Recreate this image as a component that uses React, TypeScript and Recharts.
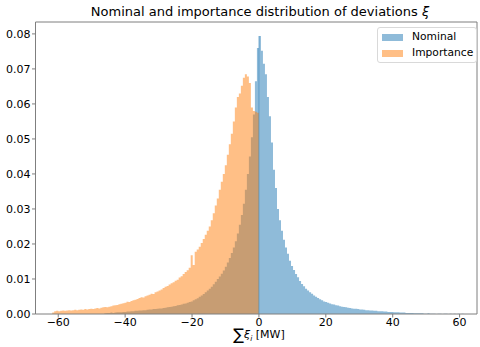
import React from "react";
import {
  ComposedChart, Area, XAxis, YAxis, ReferenceLine,
} from "recharts";

// histogram bins, width 0.6 MW, edges aligned on 0
const BIN_WIDTH = 0.6;

// nominal (blue): bins left of 0, from the far tail up to the bin ending at 0
const nominalBelowZero = [
  0.0002, 0.0003, 0.0003, 0.0004, 0.0003, 0.0004, 0.0005, 0.0005, 0.0005, 0.0006,
  0.0006, 0.0007, 0.0007, 0.0008, 0.0008, 0.0009, 0.0009, 0.001, 0.001, 0.0011,
  0.0011, 0.0012, 0.0013, 0.0013, 0.0014, 0.0014, 0.0015, 0.0016, 0.0016, 0.0017,
  0.0018, 0.0019, 0.002, 0.0021, 0.0022, 0.0023, 0.0025, 0.0026, 0.0027, 0.0029,
  0.003, 0.0032, 0.0034, 0.0036, 0.0039, 0.0042, 0.0045, 0.0049, 0.0053, 0.0057,
  0.0062, 0.0067, 0.0072, 0.0078, 0.0085, 0.0092, 0.01, 0.0107, 0.0115, 0.0124,
  0.0135, 0.0147, 0.016, 0.0174, 0.019, 0.0208, 0.023, 0.0255, 0.0283, 0.0315,
  0.0355, 0.04, 0.045, 0.0505, 0.057, 0.0665, 0.076,
];

// nominal: bins right of 0
const nominalAboveZero = [
  0.0794, 0.0752, 0.0715, 0.0685, 0.062, 0.0565, 0.049, 0.0412, 0.036, 0.03,
  0.0268, 0.0238, 0.0212, 0.019, 0.0172, 0.0152, 0.0137, 0.0126, 0.0114, 0.0105,
  0.0094, 0.0086, 0.0079, 0.0072, 0.0067, 0.0062, 0.0058, 0.0053, 0.0049, 0.0046,
  0.0042, 0.0039, 0.0036, 0.0034, 0.0032, 0.003, 0.0028, 0.0027, 0.0025, 0.0024,
  0.0022, 0.0021, 0.002, 0.0019, 0.0018, 0.0017, 0.0016, 0.0015, 0.0015, 0.0014,
  0.0013, 0.0013, 0.0012, 0.0011, 0.0011, 0.001, 0.001, 0.0009, 0.0009, 0.0008,
  0.0008, 0.0008, 0.0007, 0.0007, 0.0006, 0.0006, 0.0006, 0.0005, 0.0005, 0.0005,
  0.0004, 0.0004, 0.0004, 0.0003, 0.0003, 0.0003, 0.0003, 0.0002, 0.0002, 0.0002,
  0.0002, 0.0002, 0.0001, 0.0001, 0.0002, 0.0001, 0.0001, 0.0001, 0, 0.0001,
  0.0001, 0, 0.0001, 0.0001, 0, 0.0001, 0, 0.0001, 0, 0.0001, 0, 0.0001,
];

// importance (orange): only negative deviations, bins ending at 0
const importanceBelowZero = [
  0.0004, 0.0008, 0.0009, 0.0008, 0.0009, 0.001, 0.0009, 0.001, 0.0011, 0.001,
  0.0011, 0.0012, 0.0011, 0.0012, 0.0013, 0.0012, 0.0014, 0.0013, 0.0014, 0.0015,
  0.0014, 0.0016, 0.0017, 0.0016, 0.0018, 0.0019, 0.002, 0.0019, 0.0021, 0.0022,
  0.0024, 0.0025, 0.0026, 0.0028, 0.0029, 0.0031, 0.0032, 0.0035, 0.0034, 0.0037,
  0.0039, 0.0041, 0.0043, 0.0046, 0.0048, 0.0047, 0.0051, 0.0053, 0.0055, 0.0058,
  0.0057, 0.0062, 0.0064, 0.0067, 0.007, 0.0074, 0.0078, 0.008, 0.0084, 0.0088,
  0.0091, 0.0095, 0.0098, 0.0104, 0.0108, 0.0114, 0.012, 0.0125, 0.0132, 0.0168,
  0.014, 0.0178, 0.0184, 0.0192, 0.0203, 0.0214, 0.0226, 0.0238, 0.025, 0.0268,
  0.0288, 0.031, 0.033, 0.0355, 0.0378, 0.04, 0.0425, 0.0455, 0.0485, 0.0515,
  0.055, 0.059, 0.062, 0.063, 0.0652, 0.0675, 0.0685, 0.0678, 0.066, 0.059,
  0.058, 0.0578, 0.0575,
];

const xTicks = [-60, -40, -20, 0, 20, 40, 60];
const yTicks = [0, 0.01, 0.02, 0.03, 0.04, 0.05, 0.06, 0.07, 0.08];
const X_DOMAIN: [number, number] = [-66.8, 65.2];
const Y_DOMAIN: [number, number] = [0, 0.0834];

const series = [
  { key: "nominal", name: "Nominal", color: "#1f77b4" },
  { key: "importance", name: "Importance", color: "#ff7f0e" },
];

function nominalAt(j: number) {
  const nb = nominalBelowZero.length;
  if (j < 0) return j >= -nb ? nominalBelowZero[nb + j] : null;
  if (j < nominalAboveZero.length) return nominalAboveZero[j];
  if (j === nominalAboveZero.length) return 0;
  return null;
}

function importanceAt(j: number) {
  const ib = importanceBelowZero.length;
  if (j < 0) return j >= -ib ? importanceBelowZero[ib + j] : null;
  if (j === 0) return 0;
  return null;
}

// one row per bin edge, drawn as stepAfter areas
const first = -Math.max(nominalBelowZero.length, importanceBelowZero.length);
const last = nominalAboveZero.length;
const data: { x: number; nominal: number | null; importance: number | null }[] = [];
for (let j = first; j <= last; j++) {
  data.push({
    x: Math.round(j * BIN_WIDTH * 10) / 10,
    nominal: nominalAt(j),
    importance: importanceAt(j),
  });
}

const minus = (v: number) => String(v).replace("-", "\u2212");
const FRAME = "#7f7f7f";
const FONT = "'DejaVu Sans', sans-serif";

function HistLegend() {
  return (
    <div
      style={{
        position: "absolute", left: 377, top: 27, width: 100, height: 36,
        boxSizing: "border-box", border: "1px solid #d9d9d9", borderRadius: 3,
        background: "rgba(255,255,255,0.8)", fontSize: 10.7, lineHeight: "16px",
        padding: "1px 0 0 4px",
      }}
    >
      {series.map((s) => (
        <div key={s.key} style={{ display: "flex", alignItems: "center", height: 16 }}>
          <span
            style={{
              display: "inline-block", width: 21, height: 7, marginRight: 9,
              background: s.color, opacity: 0.5,
            }}
          />
          <span>{s.name}</span>
        </div>
      ))}
    </div>
  );
}

export default function App() {
  const peak = nominalAboveZero[0];
  return (
    <div style={{ position: "absolute", left: 0, top: 0, width: 480, height: 347, fontFamily: FONT, color: "#000", background: "#fff" }}>
      <div
        style={{
          position: "absolute", left: 36, width: 448, top: 3, textAlign: "center",
          fontSize: 13, lineHeight: "17px", whiteSpace: "nowrap",
        }}
      >
        Nominal and importance distribution of deviations <i>ξ</i>
      </div>
      <ComposedChart
        width={480}
        height={347}
        data={data}
        margin={{ top: 22, right: 3, left: 0, bottom: 0 }}
      >
        <XAxis
          dataKey="x"
          type="number"
          domain={X_DOMAIN}
          allowDataOverflow
          ticks={xTicks}
          tickFormatter={minus}
          height={33}
          tickSize={3.5}
          tickMargin={1}
          stroke={FRAME}
          tick={{ fill: "#000", fontSize: 11 }}
        />
        <YAxis
          type="number"
          domain={Y_DOMAIN}
          allowDataOverflow
          ticks={yTicks}
          tickFormatter={(v: number) => v.toFixed(2)}
          width={35.5}
          tickSize={3.5}
          tickMargin={1.5}
          stroke={FRAME}
          tick={{ fill: "#000", fontSize: 11 }}
        />
        <ReferenceLine y={Y_DOMAIN[1]} stroke={FRAME} />
        <ReferenceLine x={X_DOMAIN[1]} stroke={FRAME} />
        {series.map((s) => (
          <Area
            key={s.key}
            dataKey={s.key}
            name={s.name}
            type="stepAfter"
            stroke="none"
            fill={s.color}
            fillOpacity={0.5}
            dot={false}
            activeDot={false}
            isAnimationActive={false}
          />
        ))}
        <ReferenceLine
          segment={[{ x: 0, y: 0 }, { x: 0, y: peak }]}
          stroke="#1f77b4"
          strokeOpacity={0.45}
        />
      </ComposedChart>
      <HistLegend />
      <div
        style={{
          position: "absolute", left: 36, width: 446, top: 327, textAlign: "center",
          fontSize: 11, lineHeight: "15px", whiteSpace: "nowrap",
        }}
      >
        <span style={{ fontSize: 16, verticalAlign: "-2px" }}>∑</span>
        <i style={{ fontSize: 11 }}>ξ</i>
        <sub style={{ fontSize: 7.5, fontStyle: "italic" }}>i</sub> [MW]
      </div>
    </div>
  );
}
